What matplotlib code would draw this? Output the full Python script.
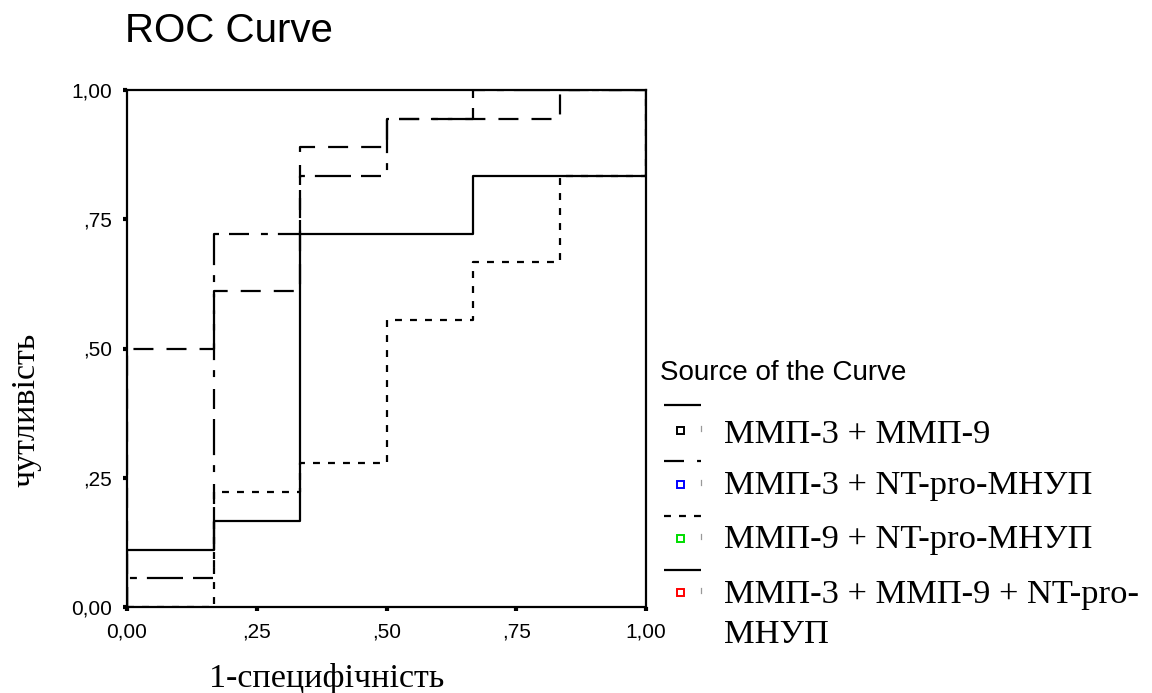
import matplotlib
matplotlib.use("Agg")
import matplotlib.pyplot as plt
from matplotlib.lines import Line2D
from matplotlib.patches import Rectangle

plt.rcParams['lines.scale_dashes'] = False

# ---------------- data ----------------
fpr = [0, 1/6, 1/3, 1/2, 2/3, 5/6, 1]
# sensitivity reached at each 1-specificity step (after the vertical jump)
tpr_mmp3_mmp9 = [0.111, 0.167, 0.722, 0.722, 0.833, 0.833, 1.0]
tpr_mmp3_nt = [0.500, 0.611, 0.889, 0.944, 0.944, 1.0, 1.0]
tpr_mmp9_nt = [0.000, 0.222, 0.278, 0.556, 0.667, 0.833, 1.0]
tpr_all = [0.056, 0.722, 0.833, 0.944, 1.0, 1.0, 1.0]

series_names = [["ММП-3 + ММП-9"], ["ММП-3 + NT-pro-МНУП"],
                ["ММП-9 + NT-pro-МНУП"], ["ММП-3 + ММП-9 + NT-pro-", "МНУП"]]
tick_vals = [0, 0.25, 0.5, 0.75, 1.0]
tick_labels = ["0,00", ",25", ",50", ",75", "1,00"]

# ---------------- figure ----------------
W, H = 1152, 693
fig = plt.figure(figsize=(W / 100, H / 100), dpi=100)
ax = fig.add_axes([127 / W, 1 - 607 / H, 519 / W, 517 / H])

lw = 1.6
styles = [
    dict(ls='-'),
    dict(ls=(0, (14.4, 9.4))),
    dict(ls=(0, (5.0, 5.8))),
    dict(ls=(0, (14.4, 8.6, 5.0, 7.2, 26.0, 7.2))),
]
all_tpr = [tpr_mmp3_mmp9, tpr_mmp3_nt, tpr_mmp9_nt, tpr_all]
for tpr, st in zip(all_tpr, styles):
    ax.plot([0] + fpr, [0] + tpr, drawstyle='steps-post', color='black',
            lw=lw, solid_capstyle='butt', dash_capstyle='butt', **st)

ax.set_xlim(0, 1)
ax.set_ylim(0, 1)
for s in ax.spines.values():
    s.set_linewidth(1.6)
    s.set_color('black')
ax.set_xticks(tick_vals)
ax.set_xticklabels(tick_labels)
ax.set_yticks(tick_vals)
ax.set_yticklabels(tick_labels)
ax.tick_params(direction='out', length=3, width=3, color='black',
               labelsize=15, pad=8)
for lab in ax.get_xticklabels() + ax.get_yticklabels():
    lab.set_family('Liberation Sans')

# ---------------- overlay for text / legend ----------------
ov = fig.add_axes([0, 0, 1, 1])
ov.set_xlim(0, W)
ov.set_ylim(H, 0)
ov.axis('off')
ov.patch.set_alpha(0)

ov.text(125, 42, "ROC Curve", fontsize=29, family='Liberation Sans',
        ha='left', va='baseline')
ov.text(209, 687, "1-специфічність", fontsize=24.5, family='Liberation Serif',
        ha='left', va='baseline')
ov.text(26, 410, "чутливість", fontsize=24.5, family='Liberation Serif',
        ha='center', va='center', rotation=90)

ov.text(660, 380, "Source of the Curve", fontsize=20,
        family='Liberation Sans', ha='left', va='baseline')

sample_y = [405, 461, 516, 570]
marker_y = [430, 484, 538, 592]
text_base = [443, 494, 548, 603]
marker_cols = ['black', 'blue', '#00dd00', 'red']
for i in range(4):
    ov.add_line(Line2D([664, 701], [sample_y[i]] * 2, color='black', lw=lw,
                       solid_capstyle='butt', dash_capstyle='butt',
                       **(styles[i] if i != 3 else {})))
    ov.add_patch(Rectangle((677, marker_y[i] - 3), 6.5, 6.5, fill=False,
                           edgecolor=marker_cols[i], lw=1.4))
    ov.add_line(Line2D([701, 701], [marker_y[i] - 4, marker_y[i] + 1],
                       color='#999999', lw=0.9))
    for j, line in enumerate(series_names[i]):
        ov.text(724, text_base[i] + 40 * j, line, fontsize=24.8,
                family='Liberation Serif', ha='left', va='baseline')

fig.savefig("out.png", dpi=100)
